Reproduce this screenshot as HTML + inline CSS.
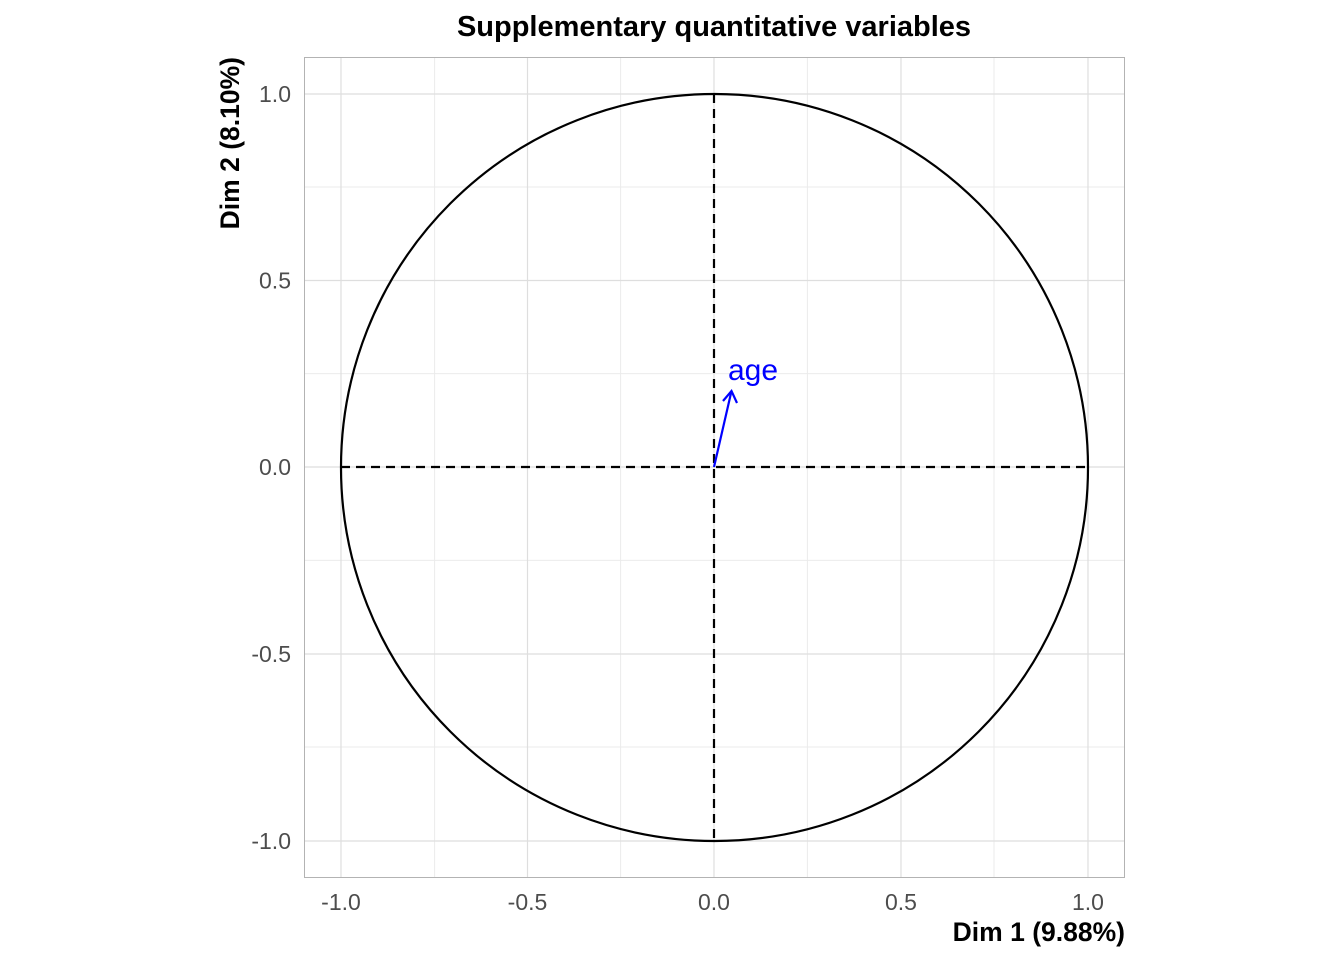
<!DOCTYPE html>
<html><head><meta charset="utf-8"><style>body{margin:0;background:#fff}svg{display:block}text{font-family:"Liberation Sans",Arial,sans-serif}</style></head><body>
<svg width="1344" height="960" viewBox="0 0 1344 960" xmlns="http://www.w3.org/2000/svg">
<rect width="1344" height="960" fill="#fff"/>
<g stroke="#ebebeb" stroke-width="1">
<line x1="434.6" y1="57" x2="434.6" y2="877"/><line x1="620.6" y1="57" x2="620.6" y2="877"/>
<line x1="807.4" y1="57" x2="807.4" y2="877"/><line x1="994" y1="57" x2="994" y2="877"/>
<line x1="304" y1="187" x2="1125" y2="187"/><line x1="304" y1="373.6" x2="1125" y2="373.6"/>
<line x1="304" y1="560.4" x2="1125" y2="560.4"/><line x1="304" y1="747" x2="1125" y2="747"/>
</g>
<g stroke="#dedede" stroke-width="1.2">
<line x1="341" y1="57" x2="341" y2="877"/><line x1="527.5" y1="57" x2="527.5" y2="877"/>
<line x1="714" y1="57" x2="714" y2="877"/><line x1="901" y1="57" x2="901" y2="877"/><line x1="1088" y1="57" x2="1088" y2="877"/>
<line x1="304" y1="94" x2="1125" y2="94"/><line x1="304" y1="280.5" x2="1125" y2="280.5"/>
<line x1="304" y1="467" x2="1125" y2="467"/><line x1="304" y1="654" x2="1125" y2="654"/><line x1="304" y1="841" x2="1125" y2="841"/>
</g>
<rect x="304.5" y="57.5" width="820" height="820" fill="none" stroke="#b3b3b3" stroke-width="1"/>
<circle cx="714.5" cy="467.5" r="373.5" fill="none" stroke="#000" stroke-width="2.2"/>
<g stroke="#000" stroke-width="2.2" stroke-dasharray="9,6">
<line x1="341" y1="467" x2="1088" y2="467"/><line x1="714" y1="94" x2="714" y2="841"/>
</g>
<g stroke="#0000ff" stroke-width="2.2" fill="none">
<line x1="714" y1="467" x2="731.5" y2="391"/>
<polyline points="723,401 731.5,391 737,403"/>
</g>
<text x="728" y="380" font-size="30" fill="#0000ff">age</text>
<g font-size="23" fill="#4d4d4d" text-anchor="end">
<text x="291" y="102">1.0</text><text x="291" y="288.5">0.5</text><text x="291" y="475">0.0</text>
<text x="291" y="662">-0.5</text><text x="291" y="849">-1.0</text>
</g>
<g font-size="23" fill="#4d4d4d" text-anchor="middle">
<text x="341" y="910">-1.0</text><text x="527.5" y="910">-0.5</text><text x="714" y="910">0.0</text>
<text x="901" y="910">0.5</text><text x="1088" y="910">1.0</text>
</g>
<text x="714" y="36" font-size="29" font-weight="bold" text-anchor="middle">Supplementary quantitative variables</text>
<text x="1125" y="941" font-size="26.5" font-weight="bold" text-anchor="end">Dim 1 (9.88%)</text>
<text transform="translate(239,57) rotate(-90)" font-size="26.5" font-weight="bold" text-anchor="end">Dim 2 (8.10%)</text>
</svg>
</body></html>
